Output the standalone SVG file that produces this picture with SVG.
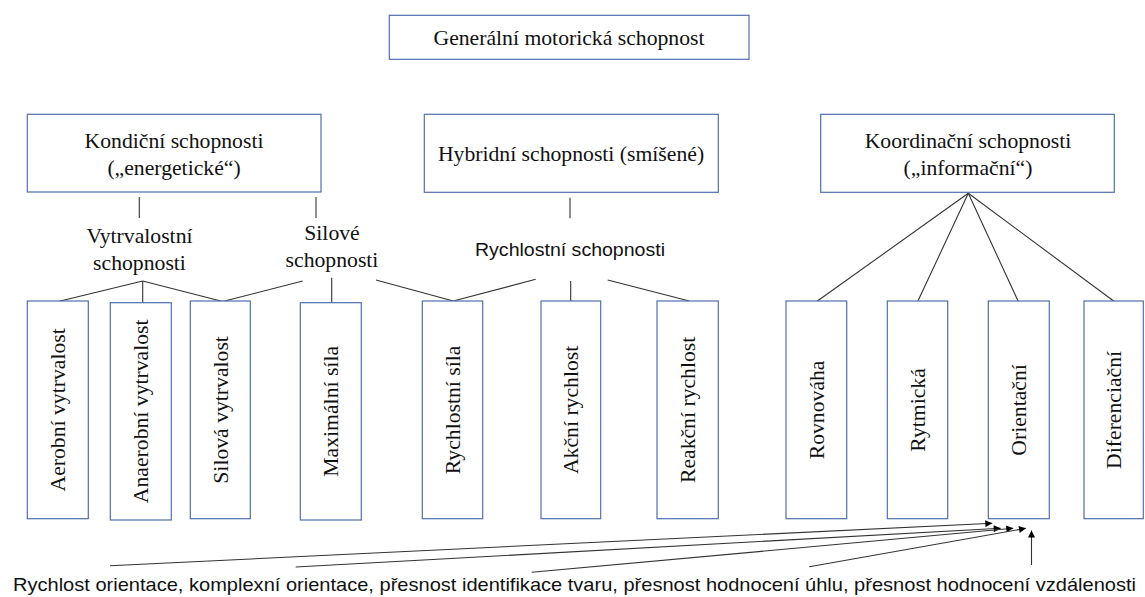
<svg xmlns="http://www.w3.org/2000/svg" width="1145" height="597" viewBox="0 0 1145 597">
<style>
.box{fill:#fff;stroke:#4f6fae;stroke-width:1.2}
.t{font-family:"Liberation Serif","Times New Roman",serif;font-size:21.7px;fill:#111;text-anchor:middle}
.s{font-family:"Liberation Sans",Arial,sans-serif;font-size:18.5px;fill:#111;text-anchor:middle}
.ln{stroke:#333;stroke-width:1.1;fill:none}
</style>
<defs>
<marker id="ah" viewBox="0 0 10 10" refX="10" refY="5" markerWidth="9" markerHeight="7" markerUnits="userSpaceOnUse" orient="auto">
<path d="M0,0 L10,5 L0,10 z" fill="#000"/>
</marker>
</defs>
<rect width="1145" height="597" fill="#fff"/>
<g id="connectors">
<line class="ln" x1="139.3" y1="197" x2="139.3" y2="218"/>
<line class="ln" x1="316" y1="197" x2="316" y2="218"/>
<line class="ln" x1="142.7" y1="281" x2="58.3" y2="301.5"/>
<line class="ln" x1="142.7" y1="281" x2="142.7" y2="302.7"/>
<line class="ln" x1="142.7" y1="281" x2="222.7" y2="301.5"/>
<line class="ln" x1="302.7" y1="281" x2="222.7" y2="301.5"/>
<line class="ln" x1="331.7" y1="277.7" x2="331.7" y2="302.7"/>
<line class="ln" x1="376" y1="280" x2="453.3" y2="301"/>
<line class="ln" x1="570" y1="197.7" x2="570" y2="218.3"/>
<line class="ln" x1="535.7" y1="279.3" x2="453.3" y2="301"/>
<line class="ln" x1="570.7" y1="281" x2="570.7" y2="301"/>
<line class="ln" x1="607.7" y1="280" x2="689.3" y2="301"/>
<line class="ln" x1="968.3" y1="193.3" x2="816.7" y2="301.5"/>
<line class="ln" x1="968.3" y1="193.3" x2="917.7" y2="301.5"/>
<line class="ln" x1="968.3" y1="193.3" x2="1018.3" y2="301.5"/>
<line class="ln" x1="968.3" y1="193.3" x2="1114.3" y2="301.5"/>
<line class="ln" x1="110" y1="565.7" x2="992.3" y2="523.3" marker-end="url(#ah)"/>
<line class="ln" x1="295.7" y1="567" x2="1000.7" y2="528.3" marker-end="url(#ah)"/>
<line class="ln" x1="531.7" y1="572.3" x2="1013.3" y2="528.3" marker-end="url(#ah)"/>
<line class="ln" x1="809.3" y1="566.7" x2="1026" y2="528.3" marker-end="url(#ah)"/>
<line class="ln" x1="1031.5" y1="565" x2="1031.5" y2="530.5" marker-end="url(#ah)"/>
</g>
<g id="general">
<rect class="box" x="389.3" y="15.3" width="359.7" height="44"/>
<text class="t" x="569" y="44.5">Generální motorická schopnost</text>
</g>
<g id="kondicni">
<rect class="box" x="27.3" y="114.3" width="293.7" height="77.7"/>
<text class="t" x="174" y="147.7">Kondiční schopnosti</text>
<text class="t" x="174" y="175">(„energetické“)</text>
</g>
<g id="hybridni">
<rect class="box" x="424.3" y="114.3" width="294" height="78"/>
<text class="t" x="571" y="161">Hybridní schopnosti (smíšené)</text>
</g>
<g id="koordinacni">
<rect class="box" x="820.7" y="114.3" width="293.6" height="78"/>
<text class="t" x="968" y="147.7">Koordinační schopnosti</text>
<text class="t" x="968" y="175">(„informační“)</text>
</g>
<g id="vytrvalostni">
<text class="t" x="139.5" y="243.3">Vytrvalostní</text>
<text class="t" x="139.5" y="270">schopnosti</text>
</g>
<g id="silove">
<text class="t" x="332" y="240">Silové</text>
<text class="t" x="332" y="266.7">schopnosti</text>
</g>
<g id="rychlostni">
<text class="s" x="570" y="256" textLength="190" lengthAdjust="spacingAndGlyphs">Rychlostní schopnosti</text>
</g>
<g id="aerobni">
<rect class="box" x="27.3" y="301" width="61" height="217.7"/>
<text class="t" transform="translate(65.3,409.9) rotate(-90)">Aerobní vytrvalost</text>
</g>
<g id="anaerobni">
<rect class="box" x="110.3" y="302.7" width="61" height="217.3"/>
<text class="t" transform="translate(148.3,411.3) rotate(-90)">Anaerobní vytrvalost</text>
</g>
<g id="silova-vytrvalost">
<rect class="box" x="190.3" y="301" width="60" height="217.7"/>
<text class="t" transform="translate(227.8,409.9) rotate(-90)">Silová vytrvalost</text>
</g>
<g id="maximalni-sila">
<rect class="box" x="300.3" y="302.7" width="61" height="217.3"/>
<text class="t" transform="translate(338.3,411.3) rotate(-90)">Maximální síla</text>
</g>
<g id="rychlostni-sila">
<rect class="box" x="422.3" y="301" width="60.4" height="217.7"/>
<text class="t" transform="translate(460,409.9) rotate(-90)">Rychlostní síla</text>
</g>
<g id="akcni-rychlost">
<rect class="box" x="541" y="301" width="59.7" height="217.7"/>
<text class="t" transform="translate(578.3,409.9) rotate(-90)">Akční rychlost</text>
</g>
<g id="reakcni-rychlost">
<rect class="box" x="657" y="301" width="61.3" height="217.7"/>
<text class="t" transform="translate(695.2,409.9) rotate(-90)">Reakční rychlost</text>
</g>
<g id="rovnovaha">
<rect class="box" x="786" y="301" width="60.7" height="217.7"/>
<text class="t" transform="translate(823.8,409.9) rotate(-90)">Rovnováha</text>
</g>
<g id="rytmicka">
<rect class="box" x="887.3" y="301" width="60.4" height="217.7"/>
<text class="t" transform="translate(925,409.9) rotate(-90)">Rytmická</text>
</g>
<g id="orientacni">
<rect class="box" x="988.3" y="301" width="61" height="217.7"/>
<text class="t" transform="translate(1026.3,409.9) rotate(-90)">Orientační</text>
</g>
<g id="diferenciacni">
<rect class="box" x="1084" y="301" width="59.3" height="217.7"/>
<text class="t" transform="translate(1121.2,409.9) rotate(-90)">Diferenciační</text>
</g>
<g id="orientace-popis">
<text class="s" x="574.5" y="591" textLength="1123" lengthAdjust="spacingAndGlyphs">Rychlost orientace, komplexní orientace, přesnost identifikace tvaru, přesnost hodnocení úhlu, přesnost hodnocení vzdálenosti</text>
</g>
</svg>
